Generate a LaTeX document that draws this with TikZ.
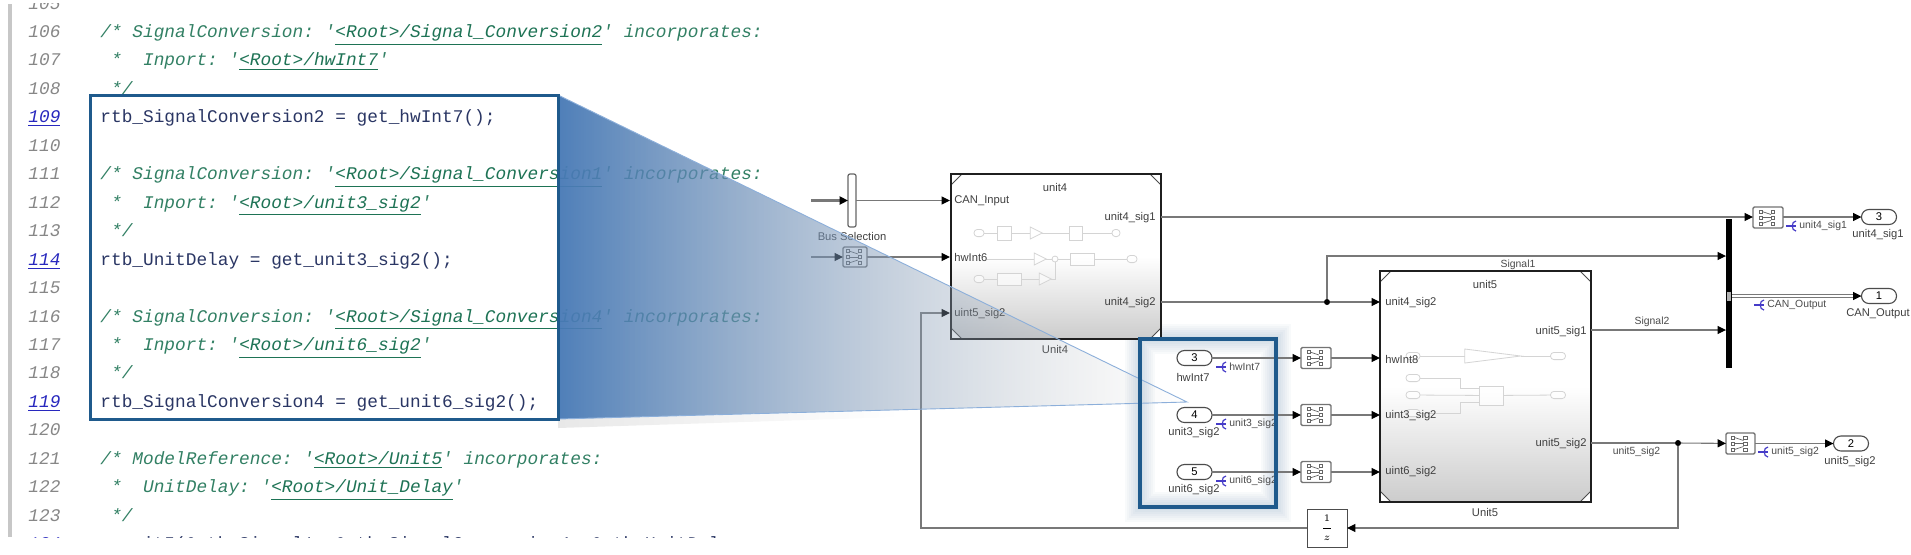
\documentclass[tikz,border=0pt]{standalone}
\usepackage{fontspec}
\setmainfont{Liberation Sans}
\setmonofont{Liberation Mono}
\usepackage{xcolor}
\usepackage{tikz}
\usetikzlibrary{shapes.geometric, arrows.meta, calc, fadings}
\definecolor{codeblue}{RGB}{31,90,140}
\definecolor{wedgeblue}{RGB}{72,122,182}
\definecolor{edgeblue}{RGB}{140,175,218}
\definecolor{comgreen}{RGB}{50,128,100}
\definecolor{linkgreen}{RGB}{30,115,85}
\definecolor{codeink}{RGB}{42,54,100}
\definecolor{numgray}{RGB}{135,135,135}
\definecolor{numblue}{RGB}{40,40,190}
\definecolor{wiregray}{RGB}{120,120,120}
\definecolor{propblue}{RGB}{70,60,200}
\tikzfading[name=wedgefade, left color=transparent!4, right color=transparent!100]
\tikzfading[name=shadowfade, left color=transparent!91, right color=transparent!100]
\tikzset{
  numtxt/.style={font=\fontsize{8.9}{10}\selectfont\ttfamily\itshape, text=numgray, anchor=base west, inner sep=0pt},
  numlink/.style={numtxt, text=numblue},
  comtxt/.style={font=\fontsize{8.9}{10}\selectfont\ttfamily\itshape, text=comgreen, anchor=base west, inner sep=0pt},
  codetxt/.style={font=\fontsize{8.9}{10}\selectfont\ttfamily, text=codeink, anchor=base west, inner sep=0pt},
  blocktxt/.style={font=\fontsize{5.6}{6}\selectfont, text=black!75, inner sep=0pt},
  sigtxt/.style={font=\fontsize{5.2}{6}\selectfont, text=black!70, inner sep=0pt},
  unitbox/.style={inner sep=0pt, outer sep=0pt, top color=white, bottom color=black!20, middle color=white},
  cornerline/.style={draw=black!70, fill=white, line width=.4pt},
  unitedge/.style={draw=black!88, line width=1.3pt},
  portoval/.style={draw=black!70, line width=.55pt, fill=white, minimum width=17.5pt, minimum height=7.5pt, rounded corners=3.7pt, inner sep=0pt, outer sep=0pt, font=\fontsize{5.6}{6}\selectfont},
  busblock/.style={draw=black!55, line width=.7pt, fill=white, rounded corners=.7pt, inner sep=0pt, outer sep=0pt},
  iconpart/.style={draw=black!60, line width=.35pt},
  sigline/.style={draw=wiregray, line width=.55pt, -{Triangle[length=4.2pt,width=4pt,color=black,fill=black]}},
  plainline/.style={draw=wiregray, line width=.55pt},
  dotjoin/.style={circle, fill=black, minimum size=3pt, inner sep=0pt, outer sep=0pt},
  ghostline/.style={draw=black!17, line width=.4pt},
  ghostbox/.style={draw=black!17, line width=.4pt, fill=white, fill opacity=.5, inner sep=0pt, outer sep=0pt},
  ghostoval/.style={ghostbox, minimum height=3.6pt, rounded corners=1.7pt},
  ghosttri/.style={ghostbox, isosceles triangle, isosceles triangle stretches, shape border rotate=0},
}
\newcommand{\numrow}[2]{\pgfmathsetmacro\ybase{37.5+28.45*(#2-106)}\node[#1] (num#2) at (28,\ybase) {#2};}
\newcommand{\coderow}[3]{\pgfmathsetmacro\ybase{37.5+28.45*(#2-106)}\node[#1] (code#2) at (100,\ybase) {#3};}
\newcommand{\lnk}[1]{{\color{linkgreen}\underline{#1}}}
% four cut corners of a model block
\newcommand{\cutcorners}[1]{
  \draw[cornerline] ([shift={(11,0)}]#1.north west) -- ([shift={(0,11)}]#1.north west) -- (#1.north west) -- cycle;
  \draw[cornerline] ([shift={(-11,0)}]#1.north east) -- ([shift={(0,11)}]#1.north east) -- (#1.north east) -- cycle;
  \draw[cornerline] ([shift={(11,0)}]#1.south west) -- ([shift={(0,-11)}]#1.south west) -- (#1.south west) -- cycle;
  \draw[cornerline] ([shift={(-11,0)}]#1.south east) -- ([shift={(0,-11)}]#1.south east) -- (#1.south east) -- cycle;
  \draw[unitedge] (#1.north west) rectangle (#1.south east);
}
% little ports drawn inside a bus block
\newcommand{\busicon}[1]{
  \foreach \dy in {-6,0,6} {
    \draw[iconpart] ([shift={(-9,\dy-1.5)}]#1.center) rectangle ++(3,3);
    \draw[iconpart] ([shift={(-6,\dy)}]#1.center) -- ([shift={(3,\dy/2)}]#1.center);
    \draw[iconpart] ([shift={(3,\dy-1.5)}]#1.center) rectangle ++(3.5,3);
  }
}
% signal name with its blue test point mark
\newcommand{\propmark}[4]{
  \draw[propblue, line width=.6pt] (#3-6,#4) -- (#3+4,#4);
  \draw[propblue, line width=.6pt] (#3+4,#4-5) .. controls (#3-1,#4-5) and (#3-1,#4+5) .. (#3+4,#4+5);
  \node[sigtxt, anchor=west] (#1) at (#3+7,#4) {#2};
}
\begin{document}
\begin{tikzpicture}[x=0.5pt,y=-0.5pt]
\useasboundingbox (0,0) rectangle (1911,554);
\fill[white] (0,0) rectangle (1911,554);

% glow of the inport frame
\foreach \w in {15,13,11,9,7,5,3}
  \draw[codeblue, opacity=.028, line width=\w pt] (1140,339) rectangle (1276,507);

% source listing
\foreach \n in {105,106,107,108,110,111,112,113,115,116,117,118,120,121,122,123}
  {\numrow{numtxt}{\n}}
\foreach \n in {109,114,119,124}
  {\pgfmathsetmacro\ybase{37.5+28.45*(\n-106)}\node[numlink] (num\n) at (28,\ybase) {\underline{\n}};}
\coderow{comtxt}{106}{/* SignalConversion: '\lnk{<Root>/Signal\_Conversion2}' incorporates:}
\coderow{comtxt}{107}{~*~~Inport: '\lnk{<Root>/hwInt7}'}
\coderow{comtxt}{108}{~*/}
\coderow{codetxt}{109}{rtb\_SignalConversion2 = get\_hwInt7();}
\coderow{comtxt}{111}{/* SignalConversion: '\lnk{<Root>/Signal\_Conversion1}' incorporates:}
\coderow{comtxt}{112}{~*~~Inport: '\lnk{<Root>/unit3\_sig2}'}
\coderow{comtxt}{113}{~*/}
\coderow{codetxt}{114}{rtb\_UnitDelay = get\_unit3\_sig2();}
\coderow{comtxt}{116}{/* SignalConversion: '\lnk{<Root>/Signal\_Conversion4}' incorporates:}
\coderow{comtxt}{117}{~*~~Inport: '\lnk{<Root>/unit6\_sig2}'}
\coderow{comtxt}{118}{~*/}
\coderow{codetxt}{119}{rtb\_SignalConversion4 = get\_unit6\_sig2();}
\coderow{comtxt}{121}{/* ModelReference: '\lnk{<Root>/Unit5}' incorporates:}
\coderow{comtxt}{122}{~*~~UnitDelay: '\lnk{<Root>/Unit\_Delay}'}
\coderow{comtxt}{123}{~*/}
\coderow{codetxt}{124}{~~unit5(\&rtb\_Signal1, \&rtb\_SignalConversion4, \&rtb\_UnitDel}
\fill[white] (0,538) rectangle (760,554);
\fill[white] (0,0) rectangle (760,3);
\fill[black!22] (8,4) rectangle (12,537);

% Unit4 block
\node[unitbox, minimum width=105pt, minimum height=82.5pt] (unit4) at (1056,256.5) {};
\cutcorners{unit4}
\coordinate (u4in1) at (950,200.5);
\coordinate (u4in2) at (950,257);
\coordinate (u4in3) at (950,313);
\coordinate (u4out1) at (1161,217);
\coordinate (u4out2) at (1161,302);

% contents of Unit4, faded
\node[ghostoval, minimum width=5pt] (ga1) at (979,233) {};
\node[ghostbox, minimum width=7pt, minimum height=7pt] (ga2) at (1004,233) {};
\node[ghosttri, minimum width=6pt, minimum height=6pt] (ga3) at (1034,233) {};
\node[ghostbox, minimum width=6.5pt, minimum height=7pt] (ga4) at (1076,233) {};
\node[ghostoval, minimum width=4pt] (ga5) at (1116,233) {};
\draw[ghostline] (ga1) -- (ga2) -- (ga3) -- (ga4) -- (ga5);
\coordinate (gb0) at (987,259);
\node[ghosttri, minimum width=6pt, minimum height=6pt] (gb1) at (1038,259) {};
\node[ghostbox, circle, minimum size=3pt] (gb2) at (1055,259) {};
\node[ghostbox, minimum width=12pt, minimum height=6pt] (gb3) at (1082,259) {};
\node[ghostoval, minimum width=5pt] (gb4) at (1132,259) {};
\draw[ghostline] (gb0) -- (gb1) -- (gb2) -- (gb3) -- (gb4);
\node[ghostoval, minimum width=5pt] (gc1) at (979,279) {};
\node[ghostbox, minimum width=12pt, minimum height=6pt] (gc2) at (1009,279) {};
\node[ghosttri, minimum width=6pt, minimum height=6pt] (gc3) at (1043,279) {};
\draw[ghostline] (gc1) -- (gc2) -- (gc3) -| (gb2);

\node[blocktxt] (unit4top) at (1055,187) {unit4};
\node[blocktxt] (unit4name) at (1055,349) {Unit4};
\node[blocktxt, anchor=west] (u4lab1) at (954,201) {CAN\_Input};
\node[blocktxt, anchor=west] (u4lab2) at (954,257) {hwInt6};
\node[blocktxt, anchor=west] (u4lab3) at (954,314) {uint5\_sig2};
\node[blocktxt, anchor=east] (u4lab4) at (1156,218) {unit4\_sig1};
\node[blocktxt, anchor=east] (u4lab5) at (1156,303) {unit4\_sig2};

% Unit5 block
\node[unitbox, minimum width=105.5pt, minimum height=115.5pt] (unit5) at (1485.5,386.5) {};
\cutcorners{unit5}
\coordinate (u5in1) at (1380,302);
\coordinate (u5in2) at (1380,358);
\coordinate (u5in3) at (1380,415);
\coordinate (u5in4) at (1380,472);
\coordinate (u5out1) at (1591,330);
\coordinate (u5out2) at (1591,443);

% contents of Unit5, faded
\node[ghostoval, minimum width=7pt] (ha1) at (1413,356) {};
\node[ghosttri, minimum width=7pt, minimum height=28pt] (ha2) at (1471,356) {};
\node[ghostoval, minimum width=7.5pt] (ha3) at (1558,356) {};
\draw[ghostline] (ha1) -- (ha2) -- (ha3);
\node[ghostoval, minimum width=7pt] (hb1) at (1413,378) {};
\node[ghostoval, minimum width=7pt] (hb2) at (1413,395) {};
\node[ghostoval, minimum width=7pt] (hb3) at (1413,413) {};
\node[ghostbox, minimum width=12pt, minimum height=9.5pt] (hb4) at (1491,395.5) {};
\node[ghostoval, minimum width=7.5pt] (hb5) at (1558,395) {};
\coordinate (hb6) at (1479,388);
\coordinate (hb7) at (1479,402);
\draw[ghostline] (hb1) -| (1460,388) -- (hb6);
\draw[ghostline] (hb2) -- (hb4) -- (hb5);
\draw[ghostline] (hb3) -| (1460,402) -- (hb7);

\node[blocktxt] (unit5top) at (1485,284) {unit5};
\node[blocktxt] (unit5name) at (1485,512) {Unit5};
\node[blocktxt, anchor=west] (u5lab1) at (1385,303) {unit4\_sig2};
\node[blocktxt, anchor=west] (u5lab2) at (1385,359) {hwInt8};
\node[blocktxt, anchor=west] (u5lab3) at (1385,416) {uint3\_sig2};
\node[blocktxt, anchor=west] (u5lab4) at (1385,472) {uint6\_sig2};
\node[blocktxt, anchor=east] (u5lab5) at (1587,332) {unit5\_sig1};
\node[blocktxt, anchor=east] (u5lab6) at (1587,444) {unit5\_sig2};

% bus blocks on the left
\coordinate (busin) at (811,200.5);
\node[draw=black!60, line width=.6pt, fill=white, rounded corners=1pt, minimum width=4pt, minimum height=26.5pt, inner sep=0pt, outer sep=0pt] (bussel) at (852,200.5) {};
\node[blocktxt] (busname) at (852,236) {Bus Selection};
\node[busblock, minimum width=12pt, minimum height=10pt] (bus0) at (855,257) {};
\busicon{bus0}
\coordinate (bus0in) at (811,257);
\draw[sigline, line width=1.3pt] (busin) -- (bussel.west);
\draw[sigline] (bussel.east) -- (u4in1);
\draw[sigline] (bus0in) -- (bus0.west);
\draw[sigline] (bus0.east) -- (u4in2);

% inports in the frame
\node[portoval] (port3) at (1194.5,358) {3};
\node[portoval] (port4) at (1194.5,415) {4};
\node[portoval] (port5) at (1194.5,472) {5};
\node[blocktxt] (port3name) at (1193,377) {hwInt7};
\node[blocktxt] (port4name) at (1194,433) {unit3\_sig2};
\node[blocktxt] (port5name) at (1194,490) {unit6\_sig2};
\propmark{prop3}{hwInt7}{1222}{367}
\propmark{prop4}{unit3\_sig2}{1222}{424}
\propmark{prop5}{unit6\_sig2}{1222}{481}
\node[busblock, minimum width=15pt, minimum height=10.5pt] (bus3) at (1316,358) {};
\node[busblock, minimum width=15pt, minimum height=10.5pt] (bus4) at (1316,415) {};
\node[busblock, minimum width=15pt, minimum height=10.5pt] (bus5) at (1316,472) {};
\busicon{bus3}
\busicon{bus4}
\busicon{bus5}
\draw[sigline] (port3) -- (bus3);
\draw[sigline] (port4) -- (bus4);
\draw[sigline] (port5) -- (bus5);
\draw[sigline] (bus3) -- (u5in2);
\draw[sigline] (bus4) -- (u5in3);
\draw[sigline] (bus5) -- (u5in4);

% bus bar and outputs on the right
\node[fill=black, minimum width=3pt, minimum height=74.5pt, inner sep=0pt, outer sep=0pt] (busbar) at (1729,293.5) {};
\node[fill=black!30, minimum width=2pt, minimum height=4.5pt, inner sep=0pt] (barmark) at (1729,296) {};
\coordinate (barin1) at (1726,256);
\coordinate (barin2) at (1726,330);
\coordinate (barout) at (1732,296);
\node[busblock, minimum width=15pt, minimum height=10.5pt] (bus1) at (1768,217.5) {};
\node[busblock, minimum width=14.5pt, minimum height=10.5pt] (bus2) at (1740.5,443.5) {};
\busicon{bus1}
\busicon{bus2}
\node[portoval] (out3) at (1879,217) {3};
\node[portoval] (out1) at (1879,296) {1};
\node[portoval] (out2) at (1851,443.5) {2};
\node[blocktxt] (out3name) at (1878,235) {unit4\_sig1};
\node[blocktxt] (out1name) at (1878,314) {CAN\_Output};
\node[blocktxt] (out2name) at (1850,462) {unit5\_sig2};
\propmark{prop1}{unit4\_sig1}{1792}{226}
\propmark{prop0}{CAN\_Output}{1760}{305}
\propmark{prop2}{unit5\_sig2}{1764}{452}
\node[dotjoin] (join1) at (1327,302) {};
\node[dotjoin] (join2) at (1678,443) {};
\node[sigtxt] (sig1txt) at (1518,265) {Signal1};
\node[sigtxt] (sig2txt) at (1652,322) {Signal2};
\node[sigtxt] (sig3txt) at (1636.5,452) {unit5\_sig2};
\node[draw=black!70, line width=.5pt, fill=white, minimum width=20pt, minimum height=19pt, inner sep=0pt, outer sep=0pt] (delay) at (1327,528) {};
\node[font=\fontsize{5}{6}\selectfont, inner sep=0pt, align=center] (delaytxt) at (1327,528) {$\displaystyle\frac{1}{z}$};

% wires between the blocks
\draw[sigline] (u4out1) -- (bus1.west |- u4out1);
\draw[sigline] (bus1.east |- out3) -- (out3);
\draw[plainline] (u4out2) -- (join1);
\draw[sigline] (join1) -- (u5in1);
\draw[sigline] (join1) |- (barin1);
\draw[sigline] (u5out1) -- (barin2);
\draw[plainline] (u5out2) -- (join2);
\draw[sigline] (join2) -- (bus2);
\draw[sigline] (bus2) -- (out2);
\draw[sigline] (join2) |- (delay);
\draw[sigline] (delay) -| (u4in3 -| 921,0) -- (u4in3);
\draw[wiregray, line width=.5pt, double=white, double distance=.7pt, -{Triangle[length=4.2pt,width=4pt,color=black,fill=black]}] (barout) -- (out1);

% wedge from the listing to the frame
\coordinate (wedgeA) at (558,95);
\coordinate (wedgeB) at (1187,402);
\coordinate (wedgeC) at (558,419);
\coordinate (wedgeD) at (900,411);
\fill[black, path fading=shadowfade, fit fading=true] (wedgeC) -- (wedgeD) -- ++(0,6) -- (558,428) -- cycle;
\shade[left color=wedgeblue, right color=black!28, path fading=wedgefade, fit fading=true] (wedgeA) -- (wedgeB) -- (wedgeC) -- cycle;
\draw[edgeblue, line width=.45pt] (wedgeA) -- (wedgeB) -- (wedgeC);

% frames on top
\node[draw=codeblue, line width=1.5pt, minimum width=234pt, minimum height=162pt, inner sep=0pt] (codeframe) at (324,257) {};
\node[draw=codeblue, line width=1.6pt, minimum width=68pt, minimum height=84pt, inner sep=0pt] (portframe) at (1208,423) {};
\end{tikzpicture}
\end{document}
